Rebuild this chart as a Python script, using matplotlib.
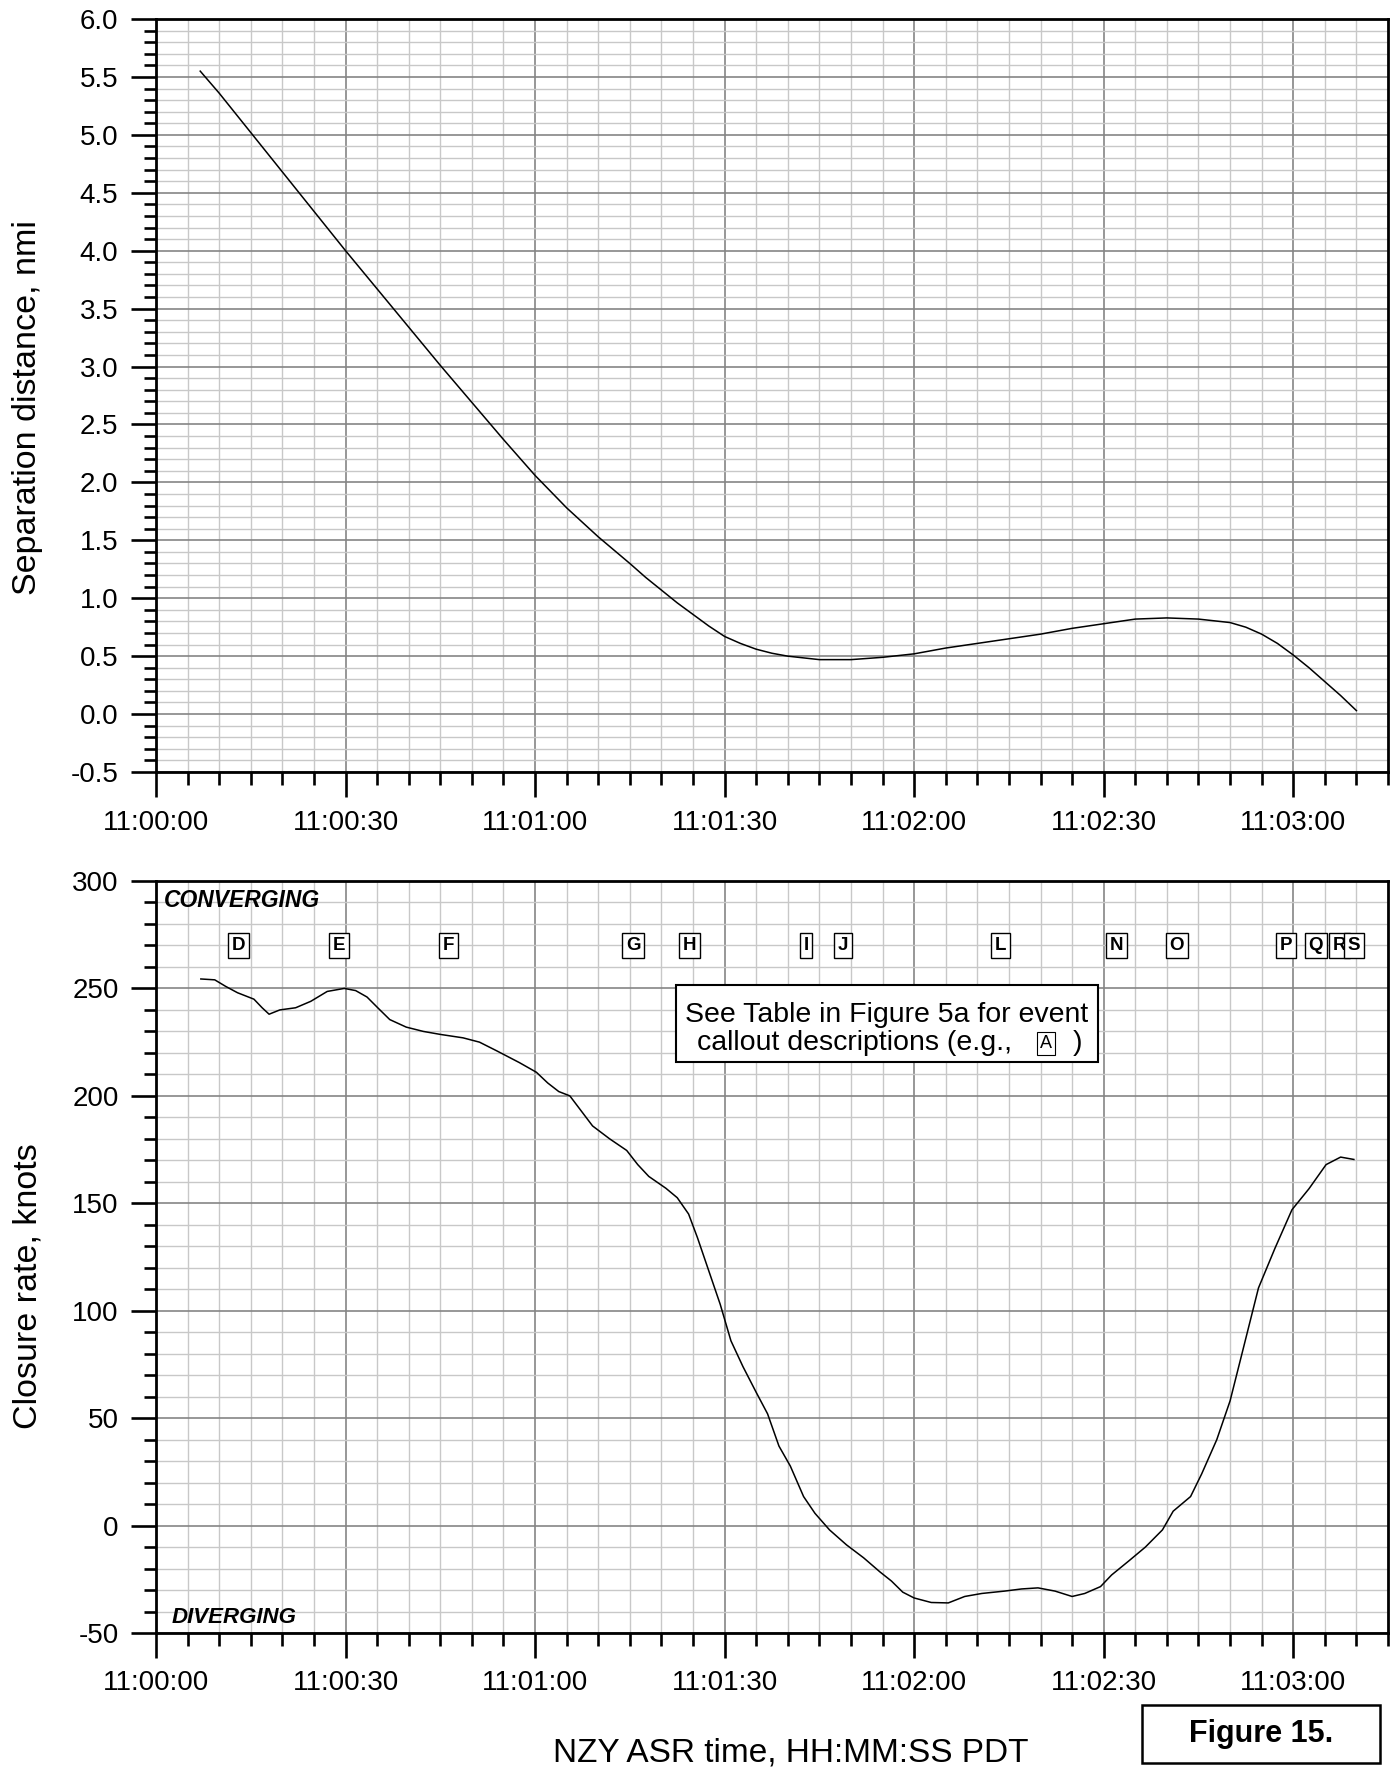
import matplotlib
matplotlib.use("Agg")
import matplotlib.pyplot as plt
from matplotlib.ticker import FixedLocator, MultipleLocator, FixedFormatter
from matplotlib.patches import Rectangle

plt.rcParams['font.family'] = ['Liberation Sans', 'DejaVu Sans']

# ---- data (time in seconds after 11:00:00 PDT) ----
t_sep = [7, 10, 15, 20, 25, 30, 35, 40, 45, 50, 55, 60, 65, 70, 75, 77.5, 80, 82.5,
         85, 87.5, 90, 92.5, 95, 97.5, 100, 105, 110, 115, 120, 125, 130, 135, 140,
         145, 150, 155, 160, 165, 170, 172.5, 175, 177.5, 180, 182.5, 185, 187.5, 190]
sep_nmi = [5.55, 5.36, 5.02, 4.68, 4.34, 4.00, 3.67, 3.34, 3.01, 2.69, 2.37, 2.06,
           1.78, 1.53, 1.30, 1.18, 1.07, 0.96, 0.86, 0.76, 0.67, 0.61, 0.56, 0.525,
           0.50, 0.47, 0.47, 0.49, 0.52, 0.57, 0.61, 0.65, 0.69, 0.74, 0.78, 0.82,
           0.83, 0.82, 0.79, 0.75, 0.69, 0.61, 0.51, 0.40, 0.28, 0.16, 0.03]

t_clo = [7.1, 9.3, 11.0, 12.9, 15.5, 16.8, 17.9, 19.6, 22.1, 24.5, 27.1, 29.8, 31.6,
         33.4, 35.2, 37.0, 39.6, 42.3, 45.0, 48.6, 51.2, 53.9, 57.5, 60.2, 62.0,
         63.75, 65.5, 67.3, 69.1, 71.8, 74.5, 76.25, 78.0, 80.7, 82.5, 84.3, 85.7,
         87.5, 89.3, 91.0, 92.9, 95.0, 96.8, 98.6, 100.4, 102.5, 104.3, 106.6,
         109.3, 112.0, 114.6, 116.4, 118.2, 120.0, 122.7, 125.4, 128.0, 130.7,
         134.3, 137.0, 139.6, 142.3, 145.0, 147.0, 149.5, 151.25, 154.0, 156.6,
         159.3, 161.0, 163.75, 165.5, 167.9, 170.0, 171.8, 174.5, 177.1, 179.8,
         182.5, 185.2, 187.5, 189.6]
closure_kt = [254.4, 254, 251, 248, 245, 241, 238, 240, 241, 244, 248.6, 250, 249,
              246, 240.7, 235.5, 232, 230, 228.6, 227, 225, 221, 215.5, 211, 206,
              202, 200, 193, 186, 180, 174.6, 168, 162.5, 157, 152.6, 145, 134,
              118.5, 103, 86, 74, 62, 52, 37, 27.7, 13.5, 5.7, -2,
              -9, -15, -21.6, -25.8, -31, -33.7, -35.8, -36, -33, -31.6,
              -30.5, -29.5, -29, -30.5, -33, -31.6, -28.4, -23, -16.4, -10,
              -2, 6.7, 13.5, 24, 40, 58, 79, 110.6, 129, 147,
              156.8, 168, 171.5, 170.4]

event_letters = ['D', 'E', 'F', 'G', 'H', 'I', 'J', 'L', 'N', 'O', 'P', 'Q', 'R', 'S']
event_times = [13.0, 28.9, 46.3, 75.5, 84.5, 102.9, 108.8, 133.6, 152.0, 161.6,
               178.9, 183.6, 187.3, 189.6]

x_ticks = [0, 30, 60, 90, 120, 150, 180]
x_tick_labels = ['11:00:00', '11:00:30', '11:01:00', '11:01:30', '11:02:00',
                 '11:02:30', '11:03:00']
sep_ticks = [-0.5, 0.0, 0.5, 1.0, 1.5, 2.0, 2.5, 3.0, 3.5, 4.0, 4.5, 5.0, 5.5, 6.0]
sep_tick_labels = ['-0.5', '0.0', '0.5', '1.0', '1.5', '2.0', '2.5', '3.0', '3.5',
                   '4.0', '4.5', '5.0', '5.5', '6.0']
clo_ticks = [-50, 0, 50, 100, 150, 200, 250, 300]
clo_tick_labels = ['-50', '0', '50', '100', '150', '200', '250', '300']

W, H = 1393, 1771
fig = plt.figure(figsize=(W / 100, H / 100), dpi=100)

left = 156 / W
width = (1388 - 156) / W
ax1 = fig.add_axes([left, 1 - 772 / H, width, (772 - 19) / H])
ax2 = fig.add_axes([left, 1 - 1633 / H, width, (1633 - 881) / H])


def style(ax, yticks, ylabels, yminor, ylim):
    ax.set_xlim(0, 195)
    ax.set_ylim(*ylim)
    ax.xaxis.set_major_locator(FixedLocator(x_ticks))
    ax.xaxis.set_major_formatter(FixedFormatter(x_tick_labels))
    ax.xaxis.set_minor_locator(MultipleLocator(5))
    ax.yaxis.set_major_locator(FixedLocator(yticks))
    ax.yaxis.set_major_formatter(FixedFormatter(ylabels))
    ax.yaxis.set_minor_locator(MultipleLocator(yminor))
    ax.grid(True, which='minor', color='#c8c8c8', lw=1.0, zorder=0)
    ax.grid(True, which='major', color='#858585', lw=1.2, zorder=0)
    ax.set_axisbelow(True)
    ax.tick_params(which='major', direction='out', length=18, width=1.9,
                   labelsize=20, pad=9, colors='black')
    ax.tick_params(which='minor', direction='out', length=9, width=1.9)
    ax.tick_params(top=False, right=False, which='both')
    for s in ax.spines.values():
        s.set_linewidth(2.0)
        s.set_color('black')


style(ax1, sep_ticks, sep_tick_labels, 0.1, (-0.5, 6.0))
style(ax2, clo_ticks, clo_tick_labels, 10, (-50, 300))

ax1.plot(t_sep, sep_nmi, color='black', lw=1.1, zorder=3)
ax2.plot(t_clo, closure_kt, color='black', lw=1.1, zorder=3)

# annotations on closure panel
ax2.text(1.3, 291, 'CONVERGING', fontsize=16.5, fontweight='bold', fontstyle='italic',
         ha='left', va='center', zorder=4)
ax2.text(2.4, -43, 'DIVERGING', fontsize=16, fontweight='bold', fontstyle='italic',
         ha='left', va='center', zorder=4)
for lab, t in zip(event_letters, event_times):
    ax2.text(t, 270, lab, fontsize=13.5, fontweight='bold', ha='center', va='center',
             zorder=5,
             bbox=dict(boxstyle='square,pad=0.2', fc='white', ec='black', lw=1.0))

# callout note box
ax2.add_patch(Rectangle((82.3, 215.8), 149.1 - 82.3, 251.6 - 215.8, fc='white',
                        ec='black', lw=1.5, zorder=5))
ax2.text(83.8, 237.6, 'See Table in Figure 5a for event', fontsize=20.5,
         ha='left', va='center', zorder=6)
ax2.text(85.6, 224.4, 'callout descriptions (e.g.,', fontsize=20.5,
         ha='left', va='center', zorder=6)
ax2.text(145.8, 224.4, ')', fontsize=20.5, ha='center', va='center', zorder=6)
ax2.text(140.9, 224.4, 'A', fontsize=13, ha='center', va='center', zorder=6,
         bbox=dict(boxstyle='square,pad=0.15', fc='white', ec='black', lw=0.8))

# axis labels
fig.text(28 / W, 1 - 408 / H, 'Separation distance, nmi', rotation=90,
         fontsize=24.5, ha='center', va='center')
fig.text(28 / W, 1 - 1286 / H, 'Closure rate, knots', rotation=90,
         fontsize=24.5, ha='center', va='center')
fig.text(791 / W, 1 - 1753 / H, 'NZY ASR time, HH:MM:SS PDT', fontsize=24,
         ha='center', va='center')

# figure label box
fig.patches.append(Rectangle((1142 / W, 1 - 1763 / H), (1380 - 1142) / W, (1763 - 1705) / H,
                             transform=fig.transFigure, fill=True, fc='white',
                             ec='black', lw=1.8))
fig.text(1261 / W, 1 - 1734 / H, 'Figure 15.', fontsize=22, fontweight='bold',
         ha='center', va='center')

fig.savefig('out.png', dpi=100)
